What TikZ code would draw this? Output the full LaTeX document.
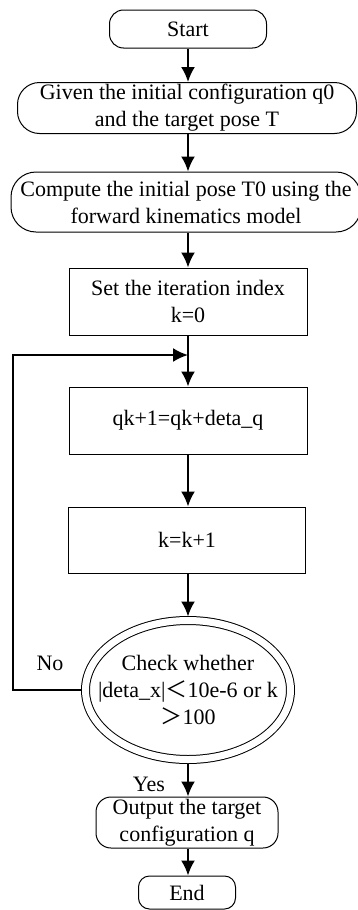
\documentclass[tikz,border=0pt]{standalone}
\usepackage{fontspec}
\setmainfont{Liberation Serif}
\newfontfamily\cjk{Noto Sans CJK SC}
\usetikzlibrary{arrows.meta,shapes.geometric,positioning}
\tikzset{
termbox/.style={
  draw,
  line width=1pt,
  rounded corners=#1,
  align=center,
  inner sep=0pt
  },
procbox/.style={
  draw,
  line width=1pt,
  align=center,
  minimum width=238pt,
  minimum height=67pt,
  inner sep=0pt
  },
checkbox/.style={
  ellipse,
  draw,
  line width=1pt,
  double,
  double distance=7pt,
  outer sep=4pt,
  minimum width=205pt,
  minimum height=139pt,
  align=center,
  inner xsep=-25pt,
  inner ysep=0pt
  }
}

\begin{document}
\begin{tikzpicture}[x=1pt, y=-1pt, >={Latex[length=15pt,width=14pt]},
  every node/.style={font=\fontsize{22}{27}\selectfont}]
\useasboundingbox (0,0) rectangle (357,910);

\node[termbox=14pt, minimum width=157pt, minimum height=38pt]
at (188,29) (start) {Start};

\node[termbox=22pt, minimum width=339pt, minimum height=51pt]
at (187,108) (given) {Given the initial configuration q0\\and the target pose T};

\node[termbox=25pt, minimum width=350pt, minimum height=60pt]
at (186,202) (pose) {Compute the initial pose T0 using the\\forward kinematics model};

\node[procbox]
at (188,301.5) (init) {Set the iteration index\\k=0};

\node[procbox]
at (188,420.5) (update) {qk+1=qk+deta\_q};

\node[procbox, minimum width=237pt, minimum height=66pt]
at (187,540) (incr) {k=k+1};

\node[checkbox]
at (188,690) (check) {Check whether\\|deta\_x|{\cjk ＜}10e-6 or k\\{\cjk ＞}100};

\node[termbox=15pt, minimum width=182pt, minimum height=51pt]
at (187,822.5) (output) {Output the target\\configuration q};

\node[termbox=11pt, minimum width=97pt, minimum height=33pt]
at (187,892.5) (end) {End};

\node at (50,663) (no) {No};
\node at (149,784) (yes) {Yes};

\coordinate (loop) at (13,355);
\coordinate (join) at (188,355);

\begin{scope}[line width=2pt]
\draw[->]
  (start.south) -- (start.south |- given.north);
\draw[->]
  (start.south |- given.south) -- (start.south |- pose.north);
\draw[->]
  (start.south |- pose.south) -- (init.north);
\draw[->]
  (init.south) -- (update.north);
\draw[->]
  (update.south) -- (update.south |- incr.north);
\draw[->]
  (update.south |- incr.south) -- (check.north);
\draw[->]
  (check.west) -| (loop) -- (join);
\draw[->]
  (check.south) -- (check.south |- output.north);
\draw[->]
  (check.south |- output.south) -- (check.south |- end.north);
\end{scope}
\end{tikzpicture}
\end{document}
